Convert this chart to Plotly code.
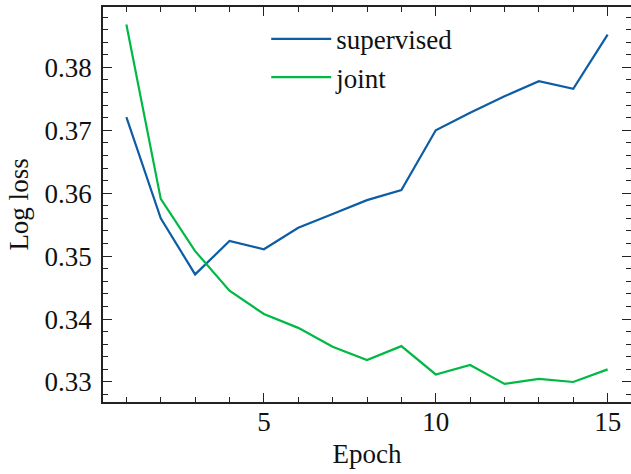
import plotly.graph_objects as go

epochs = list(range(1, 16))
supervised = [0.3721, 0.3560, 0.3471, 0.3524, 0.3511, 0.3545, 0.3567, 0.3589, 0.3605,
              0.3700, 0.3728, 0.3754, 0.3778, 0.3766, 0.3852]
joint = [0.3868, 0.3591, 0.3508, 0.3445, 0.3408, 0.3386, 0.3356, 0.3335, 0.3357,
         0.3312, 0.3327, 0.3297, 0.3305, 0.3300, 0.3320]
x_ticks = [5, 10, 15]
y_ticks = [0.33, 0.34, 0.35, 0.36, 0.37, 0.38]

FONT = "Liberation Serif"
fig = go.Figure()
fig.add_trace(go.Scatter(x=epochs, y=supervised, mode="lines", name="supervised",
                         line=dict(color="#0C5DA5", width=2.2)))
fig.add_trace(go.Scatter(x=epochs, y=joint, mode="lines", name="joint",
                         line=dict(color="#00B945", width=2.2)))

axis_common = dict(showline=True, mirror="ticks", linecolor="#222", linewidth=1.5,
                   ticks="inside", tickcolor="#222", tickwidth=1.3, ticklen=9,
                   showgrid=False, zeroline=False,
                   tickfont=dict(family=FONT, size=27, color="#111"))
fig.update_xaxes(range=[0.32, 15.68], tickvals=x_ticks, ticklabelstandoff=-5,
                 minor=dict(ticks="inside", dtick=1, tick0=0, ticklen=5, tickwidth=1, tickcolor="#222"),
                 title=dict(text="Epoch", font=dict(family=FONT, size=27, color="#111"), standoff=8),
                 **axis_common)
fig.update_yaxes(range=[0.32682, 0.38959], tickvals=y_ticks, tickformat=".2f", ticklabelstandoff=4,
                 minor=dict(ticks="inside", dtick=0.002, tick0=0.32, ticklen=5, tickwidth=1, tickcolor="#222"),
                 title=dict(text="Log loss", font=dict(family=FONT, size=27, color="#111"), standoff=8),
                 **axis_common)
fig.update_layout(width=633, height=474, margin=dict(l=103, r=0, t=7, b=72),
                  paper_bgcolor="white", plot_bgcolor="white",
                  font=dict(family=FONT, size=27, color="#111"),
                  legend=dict(x=0.49, y=0.98, xanchor="center", yanchor="top",
                              bgcolor="rgba(0,0,0,0)", font=dict(family=FONT, size=27),
                              tracegroupgap=0, itemwidth=60))
fig.write_html("out.html", config={"displayModeBar": False},
               post_script="document.body.style.margin='0';document.body.style.overflow='hidden';")
